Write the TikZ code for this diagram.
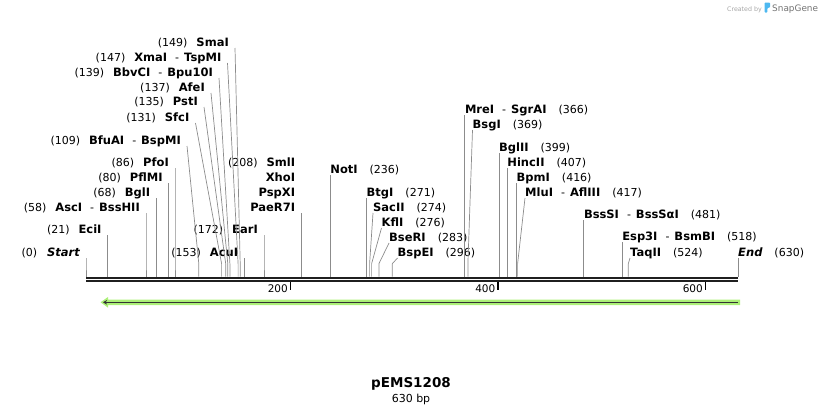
\documentclass[tikz,border=0pt]{standalone}
\usepackage{fontspec}
\setmainfont{DejaVu Sans}
\usepackage{tikz}
\usetikzlibrary{arrows.meta}

\definecolor{FeatGreen}{HTML}{ACF078}
\definecolor{SnapBlue}{HTML}{4DB8F0}
\newcommand{\Enz}[1]{{\fontsize{11.5}{13}\selectfont\bfseries #1}}
\newcommand{\EnzSep}{\hspace{8pt}{\fontsize{11}{13}\selectfont\mdseries -}\hspace{5pt}}
\newcommand{\LeftCut}[2]{(#1)\hspace{9pt}\Enz{#2}}
\newcommand{\RightCut}[2]{\Enz{#1}\hspace{12pt}(#2)}

\begin{document}
\begin{tikzpicture}[x=1pt,y=-1pt,font=\fontsize{11}{13}\selectfont]
  \tikzstyle{CutLine}=[draw=black!45,line width=0.7pt]
  \tikzstyle{LeftLabel}=[anchor=mid east,inner sep=0pt,yshift=-1.5pt]
  \tikzstyle{RightLabel}=[anchor=mid west,inner sep=0pt,yshift=-1.5pt]
  \tikzstyle{SeqLine}=[draw=black!88,line width=2pt]
  \tikzstyle{TickMark}=[draw=black,line width=1.5pt]
  \tikzstyle{TickLabel}=[anchor=mid east,inner sep=0pt,font=\fontsize{10.5}{12}\selectfont]
  \useasboundingbox (0,0) rectangle (824,415);

  % sites on the sequence
  \coordinate (P0) at (86,276.7);
  \coordinate (P21) at (107.7,276.7);
  \coordinate (P58) at (146,276.7);
  \coordinate (P68) at (156.4,276.7);
  \coordinate (P80) at (168.8,276.7);
  \coordinate (P86) at (175,276.7);
  \coordinate (P109) at (198.8,276.7);
  \coordinate (P131) at (221.6,276.7);
  \coordinate (P135) at (225.7,276.7);
  \coordinate (P137) at (227.8,276.7);
  \coordinate (P139) at (229.9,276.7);
  \coordinate (P147) at (238.1,276.7);
  \coordinate (P149) at (240.2,276.7);
  \coordinate (P153) at (244.3,276.7);
  \coordinate (P172) at (264,276.7);
  \coordinate (P208) at (301.3,276.7);
  \coordinate (P236) at (330.2,276.7);
  \coordinate (P271) at (366.5,276.7);
  \coordinate (P274) at (369.6,276.7);
  \coordinate (P276) at (371.6,276.7);
  \coordinate (P283) at (378.9,276.7);
  \coordinate (P296) at (392.3,276.7);
  \coordinate (P366) at (464.8,276.7);
  \coordinate (P369) at (467.9,276.7);
  \coordinate (P399) at (498.9,276.7);
  \coordinate (P407) at (507.2,276.7);
  \coordinate (P416) at (516.5,276.7);
  \coordinate (P417) at (517.6,276.7);
  \coordinate (P481) at (583.8,276.7);
  \coordinate (P518) at (622.1,276.7);
  \coordinate (P524) at (628.3,276.7);
  \coordinate (P630) at (738,276.7);

  \draw[SeqLine] ([yshift=-1pt]P0) -- ([yshift=-1pt]P630);
  \draw[SeqLine] ([yshift=-4.3pt]P0) -- ([yshift=-4.3pt]P630);

  \coordinate (T200) at (290.5,282);
  \coordinate (T400) at (498,282);
  \coordinate (T600) at (705.5,282);
  \draw[TickMark] (T200) -- ++(0,8);
  \draw[TickMark] (T400) -- ++(0,8);
  \draw[TickMark] (T600) -- ++(0,8);
  \node[TickLabel] (N200) at (288,289.5) {200};
  \node[TickLabel] (N400) at (495.5,289.5) {400};
  \node[TickLabel] (N600) at (703,289.5) {600};

  % feature arrow
  \fill[FeatGreen] (740,299.5) -- (108,299.5) -- (108,297) -- (100.5,302.3) -- (108,307.6) -- (108,305.1) -- (740,305.1) -- cycle;
  \draw[black!80,line width=1.2pt,-{Stealth[length=4pt,width=4.5pt]}] (738,302.3) -- (103,302.3);

  % enzymes left of their cut
  \node[LeftLabel] (Start) at (80,252) {(0)\hspace{10pt}\Enz{\itshape Start}};
  \node[LeftLabel] (EciI) at (101.7,229) {\LeftCut{21}{EciI}};
  \node[LeftLabel] (AscI) at (140,207) {\LeftCut{58}{AscI\EnzSep BssHII}};
  \node[LeftLabel] (BglI) at (150.4,192) {\LeftCut{68}{BglI}};
  \node[LeftLabel] (PflMI) at (162.8,177) {\LeftCut{80}{PflMI}};
  \node[LeftLabel] (PfoI) at (169,162) {\LeftCut{86}{PfoI}};
  \node[LeftLabel] (BfuAI) at (181,140) {\LeftCut{109}{BfuAI\EnzSep BspMI}};
  \node[LeftLabel] (SfcI) at (189.5,117) {\LeftCut{131}{SfcI}};
  \node[LeftLabel] (PstI) at (198,101) {\LeftCut{135}{PstI}};
  \node[LeftLabel] (AfeI) at (205,87) {\LeftCut{137}{AfeI}};
  \node[LeftLabel] (BbvCI) at (213,72) {\LeftCut{139}{BbvCI\EnzSep Bpu10I}};
  \node[LeftLabel] (XmaI) at (221.5,57) {\LeftCut{147}{XmaI\EnzSep TspMI}};
  \node[LeftLabel] (SmaI) at (229,42) {\LeftCut{149}{SmaI}};
  \node[LeftLabel] (AcuI) at (238.3,252) {\LeftCut{153}{AcuI}};
  \node[LeftLabel] (EarI) at (258,229) {\LeftCut{172}{EarI}};
  \node[LeftLabel] (SmlI) at (295.3,162) {\LeftCut{208}{SmlI}};
  \node[LeftLabel] (XhoI) at (295.3,177) {\Enz{XhoI}};
  \node[LeftLabel] (PspXI) at (295.3,192) {\Enz{PspXI}};
  \node[LeftLabel] (PaeR7I) at (295.3,207) {\Enz{PaeR7I}};

  \draw[CutLine] ([shift={(6pt,-4.5pt)}]Start.mid east) -- ([yshift=13pt]P0) -- (P0);
  \draw[CutLine] ([shift={(6pt,-4.5pt)}]EciI.mid east) -- ([yshift=13pt]P21) -- (P21);
  \draw[CutLine] ([shift={(6pt,-4.5pt)}]AscI.mid east) -- ([yshift=13pt]P58) -- (P58);
  \draw[CutLine] ([shift={(6pt,-4.5pt)}]BglI.mid east) -- ([yshift=13pt]P68) -- (P68);
  \draw[CutLine] ([shift={(6pt,-4.5pt)}]PflMI.mid east) -- ([yshift=13pt]P80) -- (P80);
  \draw[CutLine] ([shift={(6pt,-4.5pt)}]PfoI.mid east) -- ([yshift=13pt]P86) -- (P86);
  \draw[CutLine] ([shift={(6pt,-4.5pt)}]BfuAI.mid east) -- ([yshift=13pt]P109) -- (P109);
  \draw[CutLine] ([shift={(6pt,-4.5pt)}]SfcI.mid east) -- ([yshift=13pt]P131) -- (P131);
  \draw[CutLine] ([shift={(6pt,-4.5pt)}]PstI.mid east) -- ([yshift=13pt]P135) -- (P135);
  \draw[CutLine] ([shift={(6pt,-4.5pt)}]AfeI.mid east) -- ([yshift=13pt]P137) -- (P137);
  \draw[CutLine] ([shift={(6pt,-4.5pt)}]BbvCI.mid east) -- ([yshift=13pt]P139) -- (P139);
  \draw[CutLine] ([shift={(6pt,-4.5pt)}]XmaI.mid east) -- ([yshift=13pt]P147) -- (P147);
  \draw[CutLine] ([shift={(6pt,-4.5pt)}]SmaI.mid east) -- ([yshift=13pt]P149) -- (P149);
  \draw[CutLine] ([shift={(6pt,-4.5pt)}]AcuI.mid east) -- ([yshift=13pt]P153) -- (P153);
  \draw[CutLine] ([shift={(6pt,-4.5pt)}]EarI.mid east) -- ([yshift=13pt]P172) -- (P172);
  \draw[CutLine] ([shift={(6pt,-4.5pt)}]PaeR7I.mid east) -- ([yshift=13pt]P208) -- (P208);

  % enzymes right of their cut
  \node[RightLabel] (NotI) at (330.2,169) {\RightCut{NotI}{236}};
  \node[RightLabel] (BtgI) at (366.5,192) {\RightCut{BtgI}{271}};
  \node[RightLabel] (SacII) at (373,207) {\RightCut{SacII}{274}};
  \node[RightLabel] (KflI) at (381.5,222) {\RightCut{KflI}{276}};
  \node[RightLabel] (BseRI) at (389,237) {\RightCut{BseRI}{283}};
  \node[RightLabel] (BspEI) at (397.5,252) {\RightCut{BspEI}{296}};
  \node[RightLabel] (MreI) at (464.8,109) {\RightCut{MreI\EnzSep SgrAI}{366}};
  \node[RightLabel] (BsgI) at (472.5,124) {\RightCut{BsgI}{369}};
  \node[RightLabel] (BglII) at (498.9,147) {\RightCut{BglII}{399}};
  \node[RightLabel] (HincII) at (507.2,162) {\RightCut{HincII}{407}};
  \node[RightLabel] (BpmI) at (516.5,177) {\RightCut{BpmI}{416}};
  \node[RightLabel] (MluI) at (525,192) {\RightCut{MluI\EnzSep AflIII}{417}};
  \node[RightLabel] (BssSI) at (583.8,214) {\RightCut{BssSI\EnzSep BssSαI}{481}};
  \node[RightLabel] (Esp3I) at (622.1,236) {\RightCut{Esp3I\EnzSep BsmBI}{518}};
  \node[RightLabel] (TaqII) at (630,252) {\RightCut{TaqII}{524}};
  \node[RightLabel] (End) at (738,252) {\Enz{\itshape End}\hspace{12pt}(630)};

  \draw[CutLine] ([yshift=-4.5pt]NotI.mid west) -- ([yshift=13pt]P236) -- (P236);
  \draw[CutLine] ([yshift=-4.5pt]BtgI.mid west) -- ([yshift=13pt]P271) -- (P271);
  \draw[CutLine] ([yshift=-4.5pt]SacII.mid west) -- ([yshift=13pt]P274) -- (P274);
  \draw[CutLine] ([yshift=-4.5pt]KflI.mid west) -- ([yshift=13pt]P276) -- (P276);
  \draw[CutLine] ([yshift=-4.5pt]BseRI.mid west) -- ([yshift=13pt]P283) -- (P283);
  \draw[CutLine] ([yshift=-4.5pt]BspEI.mid west) -- ([yshift=13pt]P296) -- (P296);
  \draw[CutLine] ([yshift=-4.5pt]MreI.mid west) -- ([yshift=13pt]P366) -- (P366);
  \draw[CutLine] ([yshift=-4.5pt]BsgI.mid west) -- ([yshift=13pt]P369) -- (P369);
  \draw[CutLine] ([yshift=-4.5pt]BglII.mid west) -- ([yshift=13pt]P399) -- (P399);
  \draw[CutLine] ([yshift=-4.5pt]HincII.mid west) -- ([yshift=13pt]P407) -- (P407);
  \draw[CutLine] ([yshift=-4.5pt]BpmI.mid west) -- ([yshift=13pt]P416) -- (P416);
  \draw[CutLine] ([yshift=-4.5pt]MluI.mid west) -- ([yshift=13pt]P417) -- (P417);
  \draw[CutLine] ([yshift=-4.5pt]BssSI.mid west) -- ([yshift=13pt]P481) -- (P481);
  \draw[CutLine] ([yshift=-4.5pt]Esp3I.mid west) -- ([yshift=13pt]P518) -- (P518);
  \draw[CutLine] ([yshift=-4.5pt]TaqII.mid west) -- ([yshift=13pt]P524) -- (P524);
  \draw[CutLine] ([yshift=-4.5pt]End.mid west) -- ([yshift=13pt]P630) -- (P630);

  % name and size
  \node[font=\fontsize{13.5}{15}\selectfont\bfseries] (Name) at (411,384) {pEMS1208};
  \node[font=\fontsize{11}{13}\selectfont] (Size) at (411,399) {630 bp};

  % credit
  \node[anchor=mid east,inner sep=0pt,text=black!35,font=\fontsize{6.3}{7}\selectfont] (Created) at (762,8.5) {Created by};
  \fill[SnapBlue,rounded corners=0.8pt] (764.5,2.5) -- (770,2.5) -- (770,7.5) -- (767.3,8) -- (767.3,12.5) -- (764.5,12.5) -- cycle;
  \node[anchor=mid west,inner sep=0pt,text=black!55,font=\fontsize{8.9}{10}\selectfont] (SnapGene) at (772,8.5) {SnapGene};
\end{tikzpicture}
\end{document}
